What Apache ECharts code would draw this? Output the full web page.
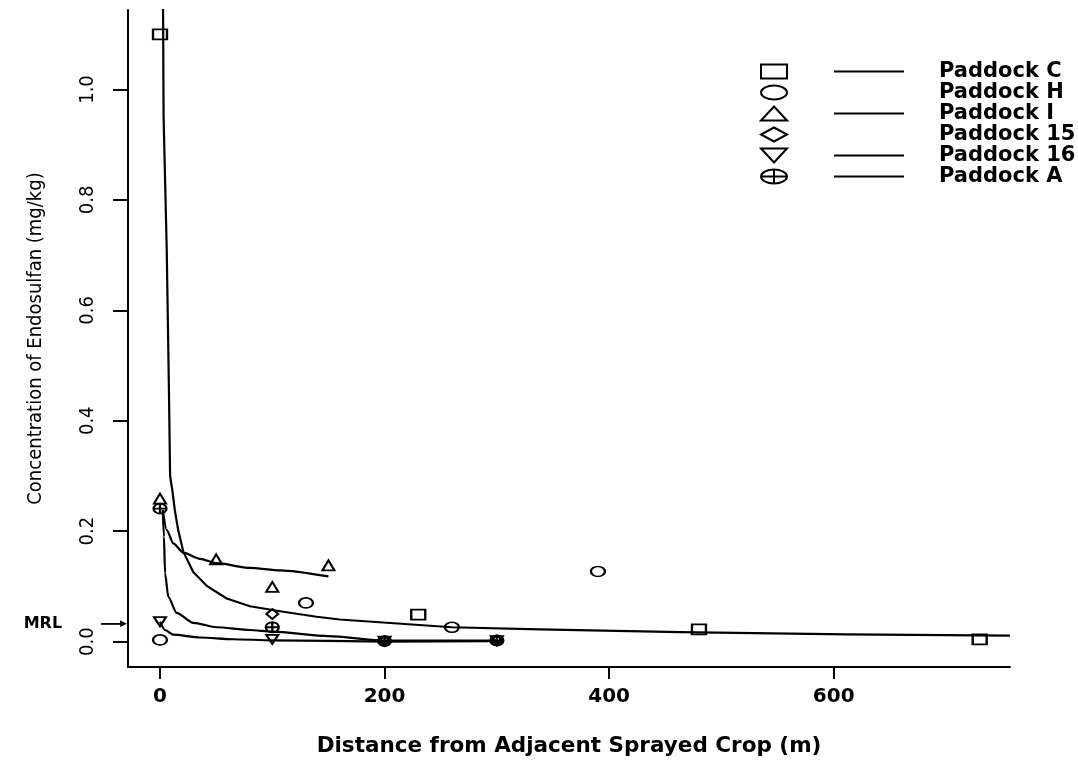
<!DOCTYPE html>
<html><head><meta charset="utf-8">
<script src="https://cdn.jsdelivr.net/npm/echarts@6/dist/echarts.min.js"></script>
<style>html,body{margin:0;padding:0;background:#fff}#c{width:1078px;height:762px}</style>
</head><body><div id="c"></div>
<script>
// ---- data ----
const paddockNames = ['Paddock C', 'Paddock H', 'Paddock I', 'Paddock 15', 'Paddock 16', 'Paddock A'];
const hasFit = [true, false, true, false, true, true];

const cX = [0, 230, 480, 730];
const cY = [1.10, 0.049, 0.022, 0.004];
const hX = [0, 130, 260, 390];
const hY = [0.003, 0.070, 0.026, 0.127];
const iX = [0, 50, 100, 150];
const iY = [0.259, 0.149, 0.099, 0.138];
const p15X = [100, 200, 300];
const p15Y = [0.050, 0.001, 0.002];
const p16X = [0, 100, 200, 300];
const p16Y = [0.036, 0.004, 0.001, 0.002];
const aX = [0, 100, 200, 300];
const aY = [0.241, 0.026, 0.001, 0.002];

// fitted curves
const fitCX = [2.6, 3.2, 6, 8, 9, 11, 13.2, 16.2, 20.7, 29.6, 41.6, 59.4, 80.1, 106.9, 139.5, 160, 260, 338, 463, 611, 757];
const fitCY = [1.20, 0.95, 0.709, 0.45, 0.30, 0.274, 0.238, 0.202, 0.163, 0.126, 0.101, 0.078, 0.064, 0.055, 0.045, 0.040, 0.026, 0.022, 0.017, 0.013, 0.011];
const fitIX = [2.5, 6, 11.8, 20.8, 35.6, 50.5, 80, 107, 150];
const fitIY = [0.238, 0.202, 0.178, 0.161, 0.150, 0.142, 0.1335, 0.129, 0.118];
const fit16X = [0, 4.5, 11.9, 35.6, 65, 100, 200, 300];
const fit16Y = [0.036, 0.021, 0.0125, 0.0074, 0.0043, 0.0024, 0.0, 0.001];
const fitAX = [2.5, 3.5, 4.5, 7.4, 14.8, 29.7, 50.5, 80, 100, 150, 200, 300];
const fitAY = [0.238, 0.19, 0.124, 0.081, 0.052, 0.034, 0.026, 0.021, 0.018, 0.010, 0.002, 0.002];

const xTicks = [0, 200, 400, 600];
const yTicks = [0, 0.2, 0.4, 0.6, 0.8, 1.0];
const mrlValue = [0.032];
const xTitle = 'Distance from Adjacent Sprayed Crop (m)';
const yTitle = 'Concentration of Endosulfan (mg/kg)';

// ---- build ----
const zip = (xs, ys) => xs.map((x, i) => [x, ys[i]]);
const pointSets = [zip(cX, cY), zip(hX, hY), zip(iX, iY), zip(p15X, p15Y), zip(p16X, p16Y), zip(aX, aY)];
const fitSets = [zip(fitCX, fitCY), null, zip(fitIX, fitIY), null, zip(fit16X, fit16Y), zip(fitAX, fitAY)];
const fitSmooth = [false, false, 0.25, false, 0.25, 0.25];

const ELLIPSE = 'path://M0,5A7,5 0 1 1 14,5A7,5 0 1 1 0,5Z';
const symbols = ['rect', ELLIPSE, 'triangle', 'diamond', 'path://M0,0L12,0L6,9Z',
  'path://M0,5A7,5 0 1 1 14,5A7,5 0 1 1 0,5Z M0,5L14,5 M7,0L7,10'];
const sizes = [[14, 10], [14, 10], [12, 10], [12, 10], [12, 9], [13, 10]];

const FONT = "'DejaVu Sans', 'Liberation Sans', sans-serif";
const NARROW = "'Liberation Sans Narrow', 'DejaVu Sans Condensed', 'Liberation Sans', sans-serif";
const XMIN = -28.5, XMAX = 757, YMIN = -0.046, YMAX = 1.144;

const series = [];
fitSets.forEach((d, k) => {
  if (!d) return;
  series.push({
    name: 'fit ' + paddockNames[k], type: 'line', data: d, symbol: 'none', showSymbol: false,
    smooth: fitSmooth[k], smoothMonotone: 'x', clip: true, silent: true,
    lineStyle: { color: '#000', width: 2.2, join: 'round' }, z: 2
  });
});
pointSets.forEach((d, k) => {
  series.push({
    name: paddockNames[k], type: 'scatter', data: d, symbol: symbols[k], symbolSize: sizes[k],
    itemStyle: { color: 'rgba(0,0,0,0)', borderColor: '#000', borderWidth: 2, opacity: 1 }, z: 3, silent: true
  });
});

const rich = {
  sp: { width: 42, lineHeight: 21 },
  ln: { width: 70, height: 2, backgroundColor: '#000', verticalAlign: 'middle' },
  nl: { width: 70, height: 2 },
  sp2: { width: 35, lineHeight: 21 }
};

const option = {
  animation: false,
  backgroundColor: '#fff',
  grid: { left: 128, right: 68, top: 10, bottom: 95, containLabel: false },
  legend: {
    orient: 'vertical', left: 760, top: 61, padding: 0, itemGap: 0,
    itemWidth: 26, itemHeight: 14, symbolKeepAspect: false,
    data: paddockNames.map(n => ({ name: n })),
    itemStyle: { color: 'rgba(0,0,0,0)', borderColor: '#000', borderWidth: 2, opacity: 1 },
    formatter: name => {
      const k = paddockNames.indexOf(name);
      return '{sp|}{' + (hasFit[k] ? 'ln' : 'nl') + '|}{sp2|}' + name;
    },
    textStyle: { fontFamily: FONT, fontWeight: 'bold', fontSize: 21, color: '#000', lineHeight: 21, rich: rich },
    selectedMode: false
  },
  xAxis: {
    type: 'value', min: XMIN, max: XMAX,
    name: xTitle, nameLocation: 'middle', nameGap: 68,
    nameTextStyle: { fontFamily: FONT, fontWeight: 'bold', fontSize: 21.5, color: '#000' },
    axisLine: { show: true, onZero: false, lineStyle: { color: '#000', width: 2 } },
    axisTick: { show: true, length: 12, customValues: xTicks, lineStyle: { color: '#000', width: 2 } },
    axisLabel: { customValues: xTicks, margin: 20, fontFamily: FONT, fontWeight: 'bold', fontSize: 20, color: '#000',
      formatter: v => String(v) },
    splitLine: { show: false }
  },
  yAxis: [{
    type: 'value', min: YMIN, max: YMAX,
    name: yTitle, nameLocation: 'middle', nameGap: 82, nameRotate: 90,
    nameTextStyle: { fontFamily: NARROW, fontSize: 20, color: '#000' },
    axisLine: { show: true, onZero: false, lineStyle: { color: '#000', width: 2 } },
    axisTick: { show: true, length: 15, customValues: yTicks, lineStyle: { color: '#000', width: 2 } },
    axisLabel: { customValues: yTicks, rotate: 90, margin: 30, fontFamily: NARROW, fontSize: 20, color: '#000',
      formatter: v => v.toFixed(1) },
    splitLine: { show: false }
  }, {
    type: 'value', min: YMIN, max: YMAX, position: 'left',
    axisLine: { show: false }, axisTick: { show: false }, splitLine: { show: false },
    axisLabel: {
      customValues: mrlValue, margin: 1,
      formatter: () => '{t|MRL}{s|}{l|}{a|▶}',
      rich: {
        t: { fontFamily: FONT, fontWeight: 'bold', fontSize: 16, color: '#000' },
        s: { width: 39 },
        l: { width: 19, height: 1.8, backgroundColor: '#000', verticalAlign: 'middle' },
        a: { fontFamily: FONT, fontSize: 9, color: '#000', verticalAlign: 'middle' }
      }
    }
  }],
  series: series
};

const chart = echarts.init(document.getElementById('c'), null, { renderer: 'canvas' });
chart.setOption(option);
</script></body></html>
